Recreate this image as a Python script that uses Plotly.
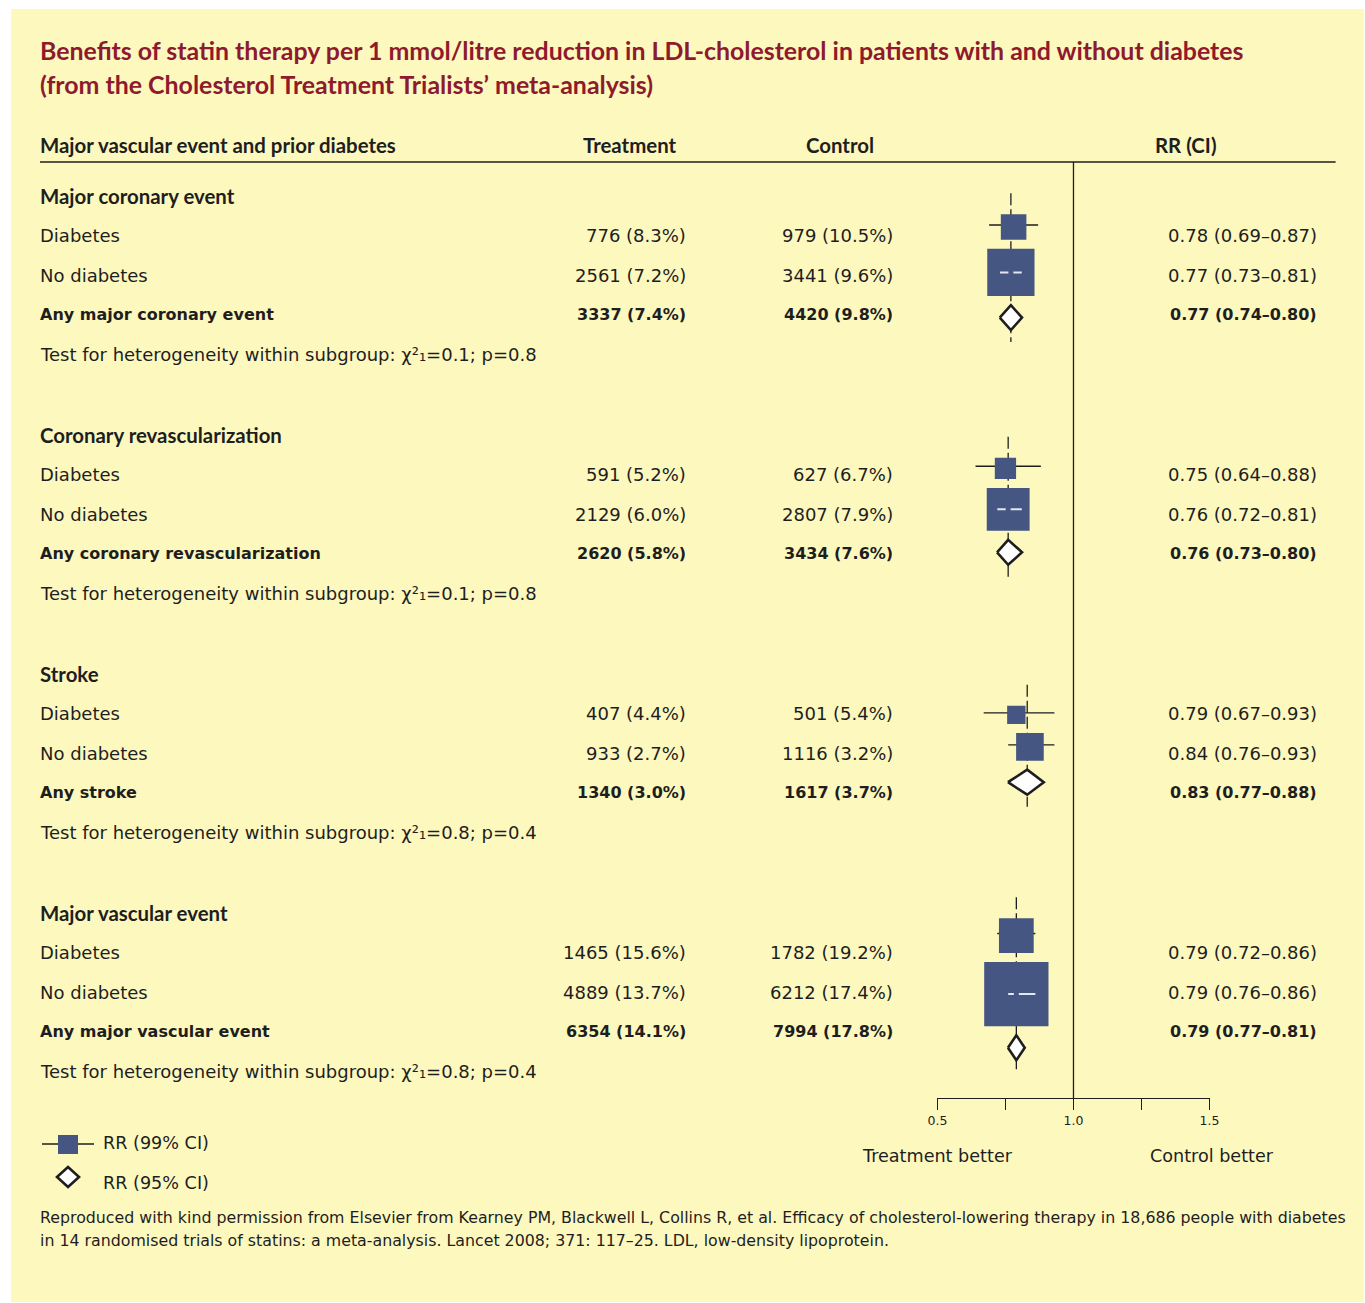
import math
import plotly.graph_objects as go

# Layout positions below are given in screen pixels; FX_OFF / FX_SCALE convert a
# horizontal screen position into the figure's own pixel space.
W, H = 1374, 1303
FX_OFF, FX_SCALE = 10.0, 0.985

# ---- data -----------------------------------------------------------------
groups = ["Major coronary event", "Coronary revascularization", "Stroke", "Major vascular event"]
subgroups = ["Diabetes", "No diabetes"]
overall_labels = ["Any major coronary event", "Any coronary revascularization",
                  "Any stroke", "Any major vascular event"]

# per group: [diabetes, no diabetes, any]
treat_events = [[776, 2561, 3337], [591, 2129, 2620], [407, 933, 1340], [1465, 4889, 6354]]
treat_pct = [[8.3, 7.2, 7.4], [5.2, 6.0, 5.8], [4.4, 2.7, 3.0], [15.6, 13.7, 14.1]]
ctrl_events = [[979, 3441, 4420], [627, 2807, 3434], [501, 1116, 1617], [1782, 6212, 7994]]
ctrl_pct = [[10.5, 9.6, 9.8], [6.7, 7.9, 7.6], [5.4, 3.2, 3.7], [19.2, 17.4, 17.8]]
rr = [[0.78, 0.77, 0.77], [0.75, 0.76, 0.76], [0.79, 0.84, 0.83], [0.79, 0.79, 0.79]]
rr_lo = [[0.69, 0.73, 0.74], [0.64, 0.72, 0.73], [0.67, 0.76, 0.77], [0.72, 0.76, 0.77]]
rr_hi = [[0.87, 0.81, 0.80], [0.88, 0.81, 0.80], [0.93, 0.93, 0.88], [0.86, 0.86, 0.81]]
het_chi2 = [0.1, 0.1, 0.8, 0.8]
het_p = [0.8, 0.8, 0.4, 0.4]

axis_ticks = [0.5, 1.0, 1.5]
axis_tick_text = ["0.5", "1.0", "1.5"]
axis_minor_ticks = [0.75, 1.25]

# ---- styling --------------------------------------------------------------
BG = "#FDF8BE"
TITLE_RED = "#8E1A2E"
BOX_BLUE = "#455682"
INK = "#1E1E1E"
BODY = "DejaVu Sans, sans-serif"
HEAD = "Lato, sans-serif"
BODY_SIZE = 18.0
BOLD_SIZE = 16.0
HEAD_SIZE = 20.4
TITLE_SIZE = 24.9

X0_PX, X1_PX = 937, 1209          # RR axis span (screen pixels)
RR_MIN, RR_MAX = 0.5, 1.5
PX_PER_UNIT = (X1_PX - X0_PX) / (RR_MAX - RR_MIN) / FX_SCALE
AXIS_Y = 1098
HEADER_LINE_Y = 162


def px(x):
    return min(max((x - FX_OFF) / FX_SCALE / W, 0), 1)


def py(y):
    return min(max(1 - y / H, 0), 1)


def row_y(g, r):
    return 196 + g * 239 + r * 39.6


annotations = []
TEXT_PAD = 2   # annotation box padding around the glyphs


def text(x, y, s, anchor="left", size=BODY_SIZE, family=BODY, color=INK):
    if anchor == "left":
        x -= TEXT_PAD
    elif anchor == "right":
        x += TEXT_PAD
    annotations.append(dict(x=px(x), y=py(y), xref="paper", yref="paper", text=s,
                            showarrow=False, xanchor=anchor, yanchor="middle",
                            font=dict(family=family, size=size, color=color)))


shapes = [
    dict(type="rect", xref="paper", yref="paper", x0=px(11), x1=1, y0=py(1302), y1=py(9),
         fillcolor=BG, line=dict(width=0), layer="below"),
    dict(type="line", xref="paper", yref="paper", x0=px(40), x1=px(1335),
         y0=py(HEADER_LINE_Y), y1=py(HEADER_LINE_Y), line=dict(color=INK, width=1.3)),
]

# ---- title & column headers ----------------------------------------------
text(40, 50, "<b>Benefits of statin therapy per 1 mmol/litre reduction in LDL-cholesterol "
             "in patients with and without diabetes</b>", size=TITLE_SIZE, family=HEAD,
     color=TITLE_RED)
text(40, 84, "<b>(from the Cholesterol Treatment Trialists’ meta-analysis)</b>",
     size=TITLE_SIZE, family=HEAD, color=TITLE_RED)
text(40, 145, "<b>Major vascular event and prior diabetes</b>", size=HEAD_SIZE, family=HEAD)
text(629, 145, "<b>Treatment</b>", anchor="center", size=HEAD_SIZE, family=HEAD)
text(840, 145, "<b>Control</b>", anchor="center", size=HEAD_SIZE, family=HEAD)
text(1185, 145, "<b>RR (CI)</b>", anchor="center", size=HEAD_SIZE, family=HEAD)

# ---- table rows -----------------------------------------------------------
for g, name in enumerate(groups):
    text(40, row_y(g, 0), f"<b>{name}</b>", size=HEAD_SIZE, family=HEAD)
    labels = subgroups + [overall_labels[g]]
    for i in range(3):
        y = row_y(g, i + 1)
        t = f"{treat_events[g][i]} ({treat_pct[g][i]:.1f}%)"
        c = f"{ctrl_events[g][i]} ({ctrl_pct[g][i]:.1f}%)"
        r = f"{rr[g][i]:.2f} ({rr_lo[g][i]:.2f}–{rr_hi[g][i]:.2f})"
        lab = labels[i]
        size = BODY_SIZE
        if i == 2:
            lab, t, c, r = (f"<b>{s}</b>" for s in (lab, t, c, r))
            size = BOLD_SIZE
        text(40, y, lab, size=size)
        text(686, y, t, anchor="right", size=size)
        text(893, y, c, anchor="right", size=size)
        text(1316, y, r, anchor="right", size=size)
    text(40, row_y(g, 4),
         f"Test for heterogeneity within subgroup: χ²₁={het_chi2[g]:.1f}; p={het_p[g]:.1f}")

# ---- forest plot ----------------------------------------------------------
traces_dash, traces_ci, traces_box, traces_white, traces_dia = [], [], [], [], []
GAP = 9
DIA_H = 25
for g in range(len(groups)):
    sizes = [0.61 * math.sqrt(treat_events[g][i] + ctrl_events[g][i]) for i in range(2)]
    heights = sizes + [DIA_H]
    total = sum(heights) + 2 * GAP
    top = row_y(g, 2) - 3 - total / 2
    centers = []
    cur = top
    for h in heights:
        centers.append(cur + h / 2)
        cur += h + GAP
    bottom = cur - GAP
    xs = rr[g][2]
    traces_dash.append(go.Scatter(x=[xs, xs], y=[top - 21, bottom + 12], mode="lines",
                                  line=dict(color=INK, width=1.3, dash="12px,4px"),
                                  hoverinfo="skip"))
    for i in range(2):
        yc = centers[i]
        s = sizes[i]
        lo, hi, est = rr_lo[g][i], rr_hi[g][i], rr[g][i]
        half = s / 2 / PX_PER_UNIT
        traces_ci.append(go.Scatter(x=[lo, hi], y=[yc - 2, yc - 2], mode="lines",
                                    line=dict(color=INK, width=1.4), hoverinfo="skip"))
        traces_box.append(go.Scatter(x=[est], y=[yc], mode="markers",
                                     marker=dict(symbol="square", size=s, color=BOX_BLUE,
                                                 line=dict(width=0)),
                                     hoverinfo="skip"))
        if lo >= est - half and hi <= est + half:
            gap = 2.5 / PX_PER_UNIT
            for a, b in ((lo, xs - gap), (xs + gap, hi)):
                traces_white.append(go.Scatter(x=[a, b], y=[yc, yc], mode="lines",
                                               line=dict(color="#E4E6F0", width=2),
                                               hoverinfo="skip"))
    # overall diamond (95% CI)
    yc = centers[2]
    lo, hi, est = rr_lo[g][2], rr_hi[g][2], rr[g][2]
    pad = 3 / PX_PER_UNIT
    mid = (lo + hi) / 2
    hw = (hi - lo) / 2 + pad
    traces_dia.append(go.Scatter(x=[mid - hw, est, mid + hw, est, mid - hw],
                                 y=[yc, yc - DIA_H / 2, yc, yc + DIA_H / 2, yc],
                                 mode="lines", fill="toself", fillcolor="white",
                                 line=dict(color=INK, width=2.6), hoverinfo="skip"))

ref_line = go.Scatter(x=[1.0, 1.0], y=[HEADER_LINE_Y, AXIS_Y], mode="lines",
                      line=dict(color=INK, width=1.3), hoverinfo="skip")

fig = go.Figure([ref_line] + traces_dash + traces_ci + traces_box + traces_white + traces_dia)

# ---- axis captions, legend, footnote -------------------------------------
text(937, 1156, "Treatment better", anchor="center", size=17.6)
text(1211, 1156, "Control better", anchor="center", size=17.6)

shapes += [
    dict(type="line", xref="paper", yref="paper", x0=px(42), x1=px(94), y0=py(1144), y1=py(1144),
         line=dict(color=INK, width=1.3)),
    dict(type="rect", xref="paper", yref="paper", x0=px(58), x1=px(78), y0=py(1154), y1=py(1135),
         fillcolor=BOX_BLUE, line=dict(width=0)),
    dict(type="path", xref="paper", yref="paper",
         path=f"M {px(57)} {py(1177)} L {px(68)} {py(1167)} L {px(79)} {py(1177)} "
              f"L {px(68)} {py(1187)} Z",
         fillcolor="white", line=dict(color=INK, width=2.6)),
]
text(103, 1143, "RR (99% CI)", size=17.6)
text(103, 1183, "RR (95% CI)", size=17.6)

text(40, 1217, "Reproduced with kind permission from Elsevier from Kearney PM, Blackwell L, "
               "Collins R, et al. Efficacy of cholesterol-lowering therapy in 18,686 people "
               "with diabetes", size=15.8)
text(40, 1240, "in 14 randomised trials of statins: a meta-analysis. Lancet 2008; 371: 117–25. "
               "LDL, low-density lipoprotein.", size=15.8)

fig.update_layout(
    width=W, height=H,
    margin=dict(l=0, r=0, t=0, b=0),
    paper_bgcolor="white",
    plot_bgcolor="rgba(0,0,0,0)",
    showlegend=False,
    shapes=shapes,
    annotations=annotations,
    xaxis=dict(domain=[px(X0_PX), px(X1_PX)], range=[RR_MIN, RR_MAX], anchor="free",
               position=py(AXIS_Y), showline=True, linecolor=INK, linewidth=1.3,
               ticks="outside", ticklen=11, tickwidth=1.3, tickcolor=INK,
               tickvals=axis_ticks, ticktext=axis_tick_text,
               minor=dict(tickvals=axis_minor_ticks, ticks="outside", ticklen=11,
                          tickwidth=1.3, tickcolor=INK, showgrid=False),
               tickfont=dict(family=BODY, size=12.5, color=INK),
               showgrid=False, zeroline=False, fixedrange=True),
    # y data values are screen pixels, top to bottom
    yaxis=dict(domain=[0, 1], range=[H, 0], visible=False, fixedrange=True),
)

fig.write_html("out.html")
